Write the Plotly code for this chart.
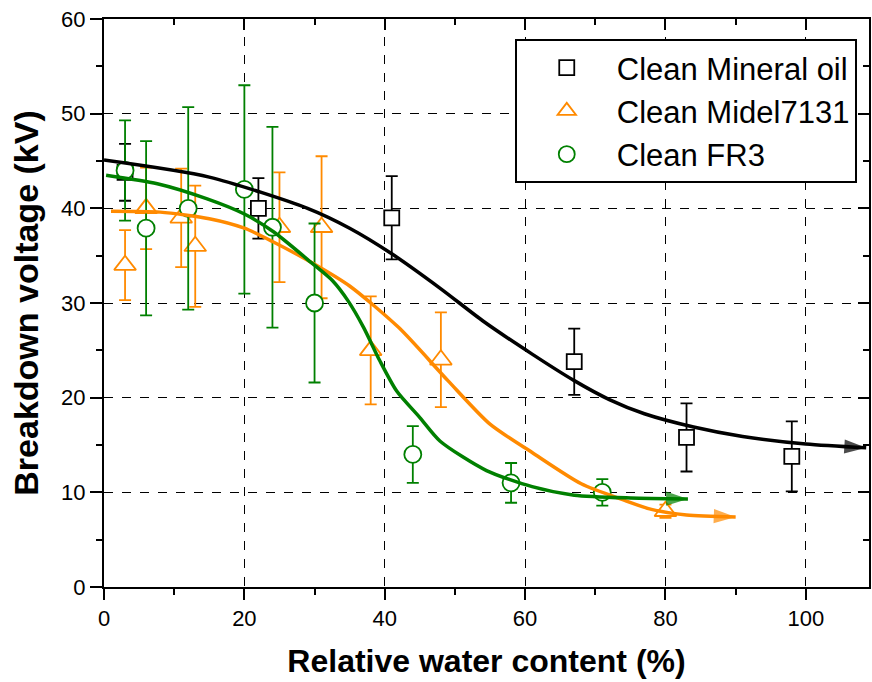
import plotly.graph_objects as go

# ---- measured data ----
mo_x = [3, 22, 41, 67, 83, 98]
mo_y = [43.8, 40.0, 39.0, 23.8, 15.8, 13.8]
mo_err = [3.0, 3.2, 4.4, 3.5, 3.6, 3.7]

mi_x = [3, 6, 11, 13, 25, 31, 38, 48, 80]
mi_y = [34.0, 40.0, 39.0, 36.0, 38.0, 38.0, 25.0, 24.0, 8.0]
mi_err = [3.7, 4.3, 5.2, 6.4, 5.8, 7.5, 5.7, 5.0, 0.7]

fr_x = [3, 6, 12, 20, 24, 30, 44, 58, 71]
fr_y = [44.0, 37.9, 40.0, 42.0, 38.0, 30.0, 14.0, 11.0, 10.0]
fr_err = [5.3, 9.2, 10.7, 11.0, 10.6, 8.4, 3.0, 2.1, 1.4]

# ---- fitted trend curves ----
mo_fit_x = [0, 15, 29, 35, 41, 48, 54, 61, 67, 72, 77, 84, 91, 100, 108.6]
mo_fit_y = [45.1, 43.3, 40.0, 37.9, 35.2, 31.5, 28.1, 24.6, 21.8, 19.8, 18.3, 16.9, 15.9, 15.1, 14.7]

mi_fit_x = [1, 8, 15, 20, 24, 30, 35, 42, 49, 55, 61, 68, 74, 78, 83, 90]
mi_fit_y = [39.7, 39.6, 38.9, 37.9, 36.5, 34.1, 31.8, 27.4, 21.8, 17.2, 14.2, 10.9, 9.2, 8.2, 7.6, 7.4]

fr_fit_x = [0.3, 7.6, 14.7, 20, 24.2, 29.8, 32.5, 34.8, 37, 39.3, 41.7, 45, 47.9, 54.5, 61, 67, 75, 83.2]
fr_fit_y = [43.5, 42.6, 41.0, 39.4, 37.5, 34.1, 32.4, 30.2, 27.4, 23.9, 20.7, 17.9, 15.4, 12.3, 10.6, 9.7, 9.4, 9.3]

names = ["Clean Mineral oil", "Clean Midel7131", "Clean FR3"]
colors = ["#000000", "#ff8a00", "#008000"]

FONT = "Liberation Sans, Arial, sans-serif"

fig = go.Figure()

series = [
    (mo_x, mo_y, mo_err, "square", 15),
    (mi_x, mi_y, mi_err, "triangle-up", 19),
    (fr_x, fr_y, fr_err, "circle", 17),
]

fits = [(mo_fit_x, mo_fit_y), (mi_fit_x, mi_fit_y), (fr_fit_x, fr_fit_y)]

for (x, y, e, sym, sz), name, col in zip(series, names, colors):
    fig.add_trace(go.Scatter(
        x=x, y=y, mode="markers", name=name,
        marker=dict(symbol=sym, size=sz, color="white",
                    line=dict(color=col, width=1.8)),
        error_y=dict(type="data", array=e, visible=True, color=col,
                     thickness=1.8, width=6),
        cliponaxis=False,
    ))

for (fx, fy), col in zip(fits, colors):
    sizes = [0] * (len(fx) - 1) + [23]
    fig.add_trace(go.Scatter(
        x=fx, y=fy, mode="lines+markers", showlegend=False,
        line=dict(color=col, width=3.5, shape="spline", smoothing=0.7),
        marker=dict(symbol="arrow", size=sizes, angleref="previous",
                    color=col, line=dict(width=0)),
        hoverinfo="skip",
    ))

# dummy trace to activate mirror axes (inward ticks on top/right)
fig.add_trace(go.Scatter(x=[None], y=[None], xaxis="x2", yaxis="y2",
                         showlegend=False, hoverinfo="skip"))

XR = [0, 109]
YR = [0, 60]

fig.update_layout(
    width=872, height=682,
    margin=dict(l=104, r=3, t=19, b=95),
    paper_bgcolor="white", plot_bgcolor="white",
    font=dict(family=FONT, color="black", size=22),
    showlegend=True,
    legend=dict(
        x=0.984, y=0.965, xanchor="right", yanchor="top",
        bordercolor="black", borderwidth=2, bgcolor="white",
        font=dict(family=FONT, size=31, color="black"),
        itemwidth=90, tracegroupgap=0,
    ),
    xaxis=dict(
        range=XR, dtick=20, tick0=0, showline=True, linecolor="black",
        linewidth=2, mirror=True, ticks="outside", ticklen=11, tickwidth=2,
        tickcolor="black", showgrid=True, gridcolor="black", gridwidth=1.3,
        griddash="dash", zeroline=False, ticklabeloverflow="allow",
        automargin=False,
        minor=dict(dtick=10, ticks="outside", ticklen=6, tickwidth=2,
                   tickcolor="black", showgrid=False),
        tickfont=dict(size=22, family=FONT),
        title=dict(text="<b>Relative water content (%)</b>",
                   font=dict(size=32, family=FONT), standoff=19),
    ),
    yaxis=dict(
        range=YR, dtick=10, tick0=0, showline=True, linecolor="black",
        linewidth=2, mirror=True, ticks="outside", ticklen=12, tickwidth=2,
        tickcolor="black", showgrid=True, gridcolor="black", gridwidth=1.3,
        griddash="dash", zeroline=False, ticklabeloverflow="allow",
        automargin=False,
        minor=dict(dtick=5, ticks="outside", ticklen=6, tickwidth=2,
                   tickcolor="black", showgrid=False),
        tickfont=dict(size=22, family=FONT),
        title=dict(text="<b>Breakdown voltage (kV)</b>",
                   font=dict(size=34, family=FONT), standoff=12),
    ),
    xaxis2=dict(
        range=XR, overlaying="x", side="top", anchor="y2", dtick=20, tick0=0,
        showline=False, ticks="inside", automargin=False,
        ticklen=11, tickwidth=2, tickcolor="black", showticklabels=False,
        showgrid=False, zeroline=False,
        minor=dict(dtick=10, ticks="inside", ticklen=6, tickwidth=2,
                   tickcolor="black", showgrid=False),
    ),
    yaxis2=dict(
        range=YR, overlaying="y", side="right", anchor="x2", dtick=10, tick0=0,
        showline=False, ticks="inside", automargin=False,
        ticklen=11, tickwidth=2, tickcolor="black", showticklabels=False,
        showgrid=False, zeroline=False,
        minor=dict(dtick=5, ticks="inside", ticklen=6, tickwidth=2,
                   tickcolor="black", showgrid=False),
    ),
)

fig.write_html(
    "out.html",
    config={"displayModeBar": False},
    post_script="document.body.style.margin='0';document.body.style.overflow='hidden';",
)
